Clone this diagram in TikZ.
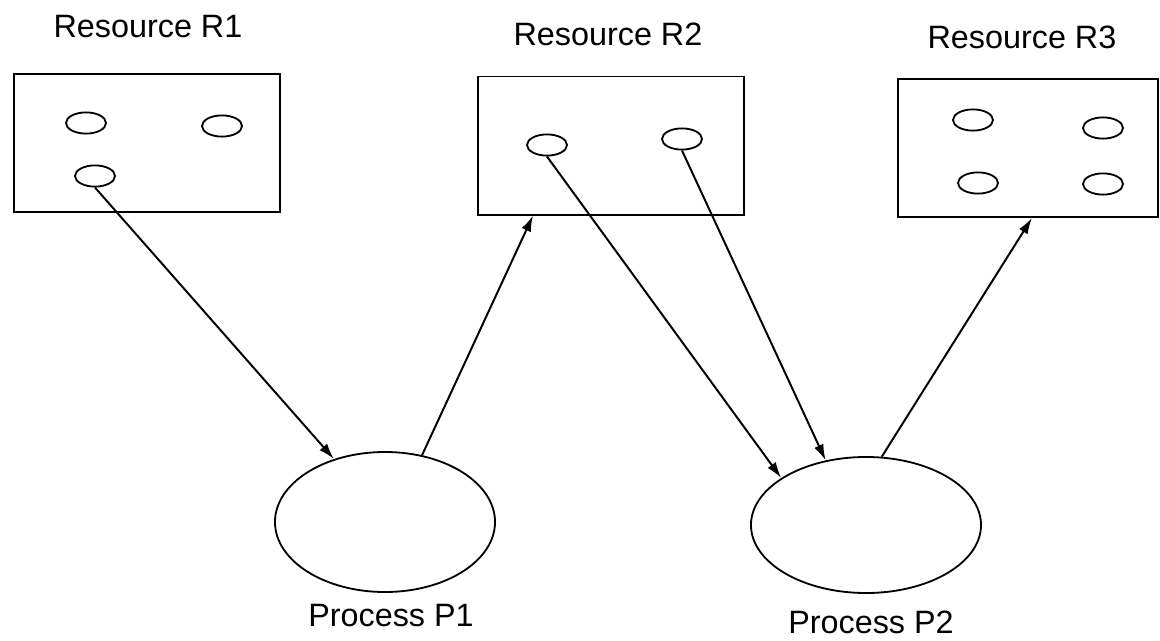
\documentclass[tikz,border=0pt]{standalone}
\usepackage{fontspec}
\setmainfont{Liberation Sans}
\usetikzlibrary{shapes.geometric,arrows.meta,calc}

\tikzset{
	resbox/.style={draw, line width=1.4pt, rectangle, minimum width=6.67cm, minimum height=3.45cm},
	unit/.style={draw, line width=1.3pt, ellipse, minimum width=1.0cm, minimum height=0.53cm, inner sep=0pt},
	proc/.style={draw, line width=1.3pt, ellipse, inner sep=0pt},
	title/.style={font=\fontsize{23}{26}\selectfont, inner sep=0pt},
	req/.style={line width=1.4pt, -{Latex[length=4mm,width=2.5mm]}}
}

\begin{document}
\begin{tikzpicture}[x=0.025cm, y=-0.025cm]
	\useasboundingbox (0,0) rectangle (1160,640);
	
	% Resource boxes
	\node[resbox] (r1) at (147, 143) {};
	\node[resbox] (r2) at (611, 145.5) {};
	\node[resbox, minimum width=6.5cm] (r3) at (1028, 148) {};
	
	\node[title] (t1) at (148, 27) {Resource R1};
	\node[title] (t2) at (608, 34) {Resource R2};
	\node[title] (t3) at (1022, 37) {Resource R3};
	
	% Units inside each resource
	\node[unit] (r1a) at (86, 123) {};
	\node[unit] (r1b) at (222, 126) {};
	\node[unit] (r1c) at (95, 176) {};
	
	\node[unit] (r2a) at (547, 145) {};
	\node[unit] (r2b) at (682, 139) {};
	
	\node[unit] (r3a) at (973, 120) {};
	\node[unit] (r3b) at (1103, 128) {};
	\node[unit] (r3c) at (978, 183) {};
	\node[unit] (r3d) at (1103, 184) {};
	
	% Processes
	\node[proc, minimum width=5.5cm, minimum height=3.5cm] (p1) at (385, 522) {};
	\node[proc, minimum width=5.75cm, minimum height=3.4cm] (p2) at (866, 525) {};
	
	\node[title] (l1) at (391, 616) {Process P1};
	\node[title] (l2) at (871, 622) {Process P2};
	
	% Allocation and request edges
	\draw[req] (r1c.south) -- (p1.129);
	\draw[req] (p1.61) -- ($(r2.south west)!0.21!(r2.south east)$);
	\draw[req] (r2a.south) -- (p2.151);
	\draw[req] (r2b.south) -- (p2.122);
	\draw[req] (p2.77) -- ($(r3.south west)!0.515!(r3.south east)$);
	
\end{tikzpicture}
\end{document}
